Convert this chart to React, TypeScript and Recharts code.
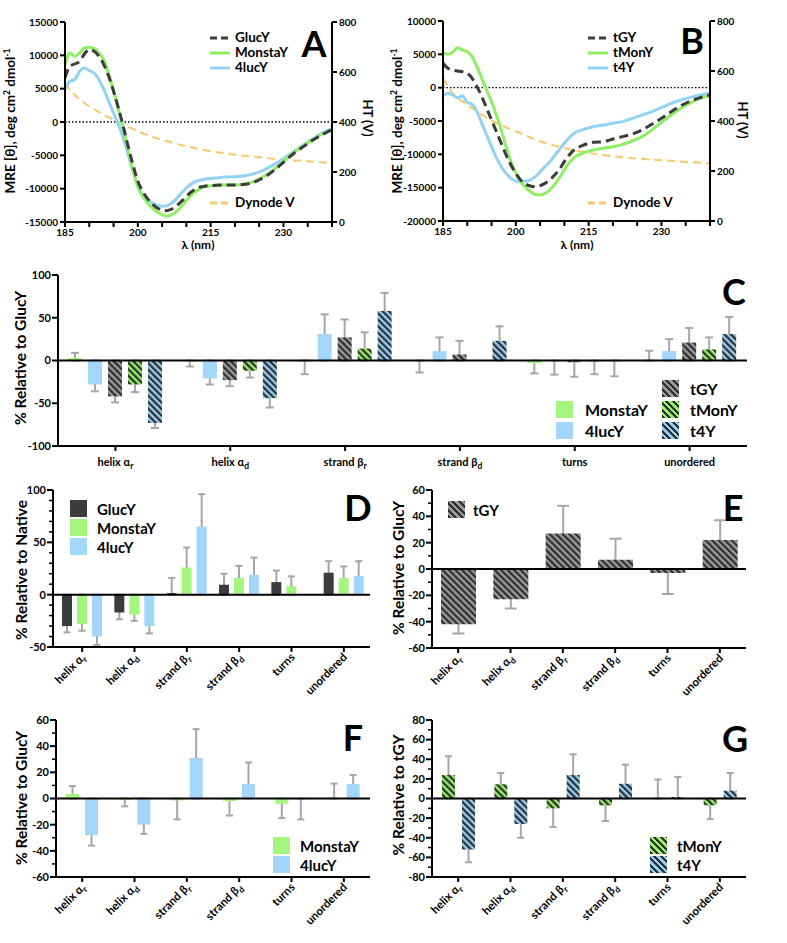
import React from 'react';
import { LineChart, Line, XAxis, YAxis, ReferenceLine, BarChart, Bar, ErrorBar } from 'recharts';

const FONT = 'Lato, "Open Sans", "DejaVu Sans", sans-serif';
const INK = '#000';

// ---- CD spectra (A, B), MRE in deg cm2 dmol-1
const wavelengths = [185, 186, 187, 188, 189, 190, 191, 192, 193, 194, 195, 196, 197, 198, 199, 200, 201, 202, 203, 204, 205, 206, 207, 208, 209, 210, 211, 212, 214, 216, 218, 220, 222, 224, 226, 228, 230, 232, 234, 236, 238, 240];
const glucY = [6600, 8350, 8700, 9100, 10200, 10850, 10600, 9850, 8600, 6850, 4600, 2100, -650, -3650, -6400, -8900, -10400, -11500, -12300, -12900, -13200, -13300, -13050, -12550, -11900, -11150, -10500, -10000, -9600, -9500, -9450, -9450, -9350, -9000, -8300, -7300, -6050, -4800, -3750, -2750, -1900, -1150];
const monstaY = [8600, 10350, 9850, 10350, 11100, 11200, 11000, 10350, 9300, 7200, 4700, 1900, -1100, -4200, -7200, -9700, -11150, -12150, -12900, -13500, -13900, -14150, -13900, -13400, -12650, -11750, -11000, -10400, -9650, -9500, -9450, -9450, -9350, -8900, -8150, -7150, -5900, -4650, -3650, -2650, -1800, -1150];
const lucY4 = [4850, 6100, 6350, 7600, 8100, 7700, 7350, 6350, 4850, 3100, 1350, -400, -2400, -4900, -7400, -9650, -10900, -11650, -12150, -12500, -12650, -12550, -12150, -11500, -10650, -9900, -9300, -8900, -8550, -8400, -8250, -8200, -8050, -7750, -7200, -6400, -5500, -4500, -3500, -2550, -1650, -1000];
const tGY = [3650, 2900, 2650, 2500, 2400, 2150, 1400, 150, -1350, -3100, -4850, -6600, -8350, -10100, -11600, -12850, -13850, -14450, -14750, -14850, -14700, -14350, -13850, -13100, -12200, -11100, -10100, -9350, -8600, -8200, -8100, -7700, -7350, -6950, -6350, -5500, -4600, -3600, -2700, -2000, -1500, -1100];
const tMonY = [5250, 5000, 5300, 6000, 5650, 5400, 4650, 3150, 1400, -350, -2100, -4100, -6350, -8850, -11100, -12850, -14100, -14950, -15600, -16000, -16100, -15850, -15350, -14500, -13500, -12350, -11250, -10500, -9750, -9350, -9100, -8850, -8500, -8000, -7350, -6350, -5200, -4100, -3100, -2250, -1600, -1200];
const t4Y = [-1200, -850, -1100, -1500, -1250, -2200, -2500, -3600, -5350, -7100, -8850, -10500, -11850, -12850, -13600, -14000, -14100, -14000, -13850, -13350, -12600, -11850, -11100, -10200, -9250, -8350, -7500, -6850, -6250, -5850, -5600, -5350, -5100, -4600, -4100, -3600, -3000, -2350, -1850, -1450, -1100, -850];

// dynode voltage, right axis (V)
const dynodeWl = [185, 187, 190, 193, 196, 200, 205, 210, 215, 220, 225, 230, 235, 240];
const dynodeA = [556, 509, 463, 429, 400, 363, 329, 303, 283, 269, 259, 249, 243, 235];
const dynodeB = [571, 512, 465, 425, 392, 359, 319, 292, 272, 259, 250, 243, 237, 230];

const wlTicks = [185, 190, 195, 200, 205, 210, 215, 220, 225, 230, 235, 240];
const wlLabels = [185, 200, 215, 230];
const mreTicksA = [-15000, -10000, -5000, 0, 5000, 10000, 15000];
const mreTicksB = [-20000, -15000, -10000, -5000, 0, 5000, 10000];
const htTicks = [0, 200, 400, 600, 800];

// ---- secondary structure (C-G), % change; errors signed (direction of whisker)
const structures = ['helix α_r', 'helix α_d', 'strand β_r', 'strand β_d', 'turns', 'unordered'];

const cMonstaY = [3, -1, -1, -1, -3, 0.4];
const cMonstaYErr = [6, -6, -15, -13, -12, 11];
const c4lucY = [-28, -21, 31, 11, -0.5, 11];
const c4lucYErr = [-8, -7, 23, 16, -16, 14];
const cTGY = [-42, -23, 27, 7, -2, 21];
const cTGYErr = [-7, -7, 21, 16, -17, 17];
const cTMonY = [-28, -12, 14, 0, -1, 13];
const cTMonYErr = [-9, -8, 19, 0, -15, 14];
const cT4Y = [-73, -44, 58, 23, -0.5, 31];
const cT4YErr = [-6, -11, 21, 17, -18, 20];
const cTicks = [-100, -50, 0, 50, 100];

const dGlucY = [-30, -17, 1.5, 9.5, 12, 21];
const dGlucYErr = [-6, -6.5, 14.5, 10.5, 11, 11];
const dMonstaY = [-28, -19, 26, 16, 8, 16];
const dMonstaYErr = [-6.5, -6, 19, 11.5, 9.5, 11];
const d4lucY = [-40, -30, 65, 19, 0, 18];
const d4lucYErr = [-8, -7, 31, 16.5, 0, 14];
const dTicks = [-50, -40, -30, -20, -10, 0, 10, 20, 30, 40, 50, 60, 70, 80, 90, 100];

const eTGY = [-42, -23, 27, 7, -3, 22];
const eTGYErr = [-7, -7, 21, 16, -16, 15];
const efTicks = [-60, -50, -40, -30, -20, -10, 0, 10, 20, 30, 40, 50, 60];

const fMonstaY = [3.5, -1, -1.5, -2, -4, 0.4];
const fMonstaYErr = [6, -5, -14.5, -11, -11, 11];
const f4lucY = [-28, -20, 31, 11, -0.5, 11];
const f4lucYErr = [-8, -7, 22, 16.5, -15.5, 7];

const gTMonY = [24, 14.5, -10, -7, 0.4, -7];
const gTMonYErr = [19, 11.5, -19, -16, 19, -14];
const gT4Y = [-52, -26, 24, 15, 1.5, 8];
const gT4YErr = [-13, -14, 21, 19.5, 20.5, 18];
const gTicks = [-80, -70, -60, -50, -40, -30, -20, -10, 0, 10, 20, 30, 40, 50, 60, 70, 80];

// colours
const DARK = '#3c3c3c';
const GREEN = '#a4f67f';
const BLUE = '#a2d7fb';
const LINE_GREEN = '#8ef060';
const LINE_BLUE = '#93d2f7';
const ORANGE = '#f6c96c';
const ERR = '#a6a6a6';
const HATCH_BG = { tGY: '#9a9a9a', tMonY: '#93ef66', t4Y: '#92cdf4' };

type Box = { left: number; top: number; width: number; height: number };
type Plot = { x0: number; x1: number; y0: number; y1: number };
type BarSeries = { key: string; values: number[]; errors: number[]; fill: string };
type LineSeries = { key: string; values: number[]; color: string; dash?: string };

const hatchCss = (bg: string) =>
  `repeating-linear-gradient(45deg, #2e2e2e 0px, #2e2e2e 2.2px, ${bg} 2.2px, ${bg} 4.6px)`;

const Txt = ({ x, y, rot = 0, size, children }: any) => (
  <div
    style={{
      position: 'absolute', left: x, top: y, transform: `translate(-50%, -50%) rotate(${rot}deg)`,
      fontSize: size, fontWeight: 700, fontFamily: FONT, whiteSpace: 'nowrap', lineHeight: 1, color: INK,
    }}
  >
    {children}
  </div>
);

const BoxKey = ({ x, y, bg, label, textX, size = 15, box = 17 }: any) => (
  <>
    <div style={{ position: 'absolute', left: x, top: y, width: box, height: box, background: bg }} />
    <div
      style={{
        position: 'absolute', left: textX, top: y + box / 2, transform: 'translateY(-50%)',
        fontSize: size, fontWeight: 700, fontFamily: FONT, lineHeight: 1, whiteSpace: 'nowrap',
      }}
    >
      {label}
    </div>
  </>
);

const LineKey = ({ x, y, color, dash, label, width = 20 }: any) => (
  <>
    <svg style={{ position: 'absolute', left: x, top: y - 3 }} width={width} height={6}>
      <line x1={0} x2={width} y1={3} y2={3} stroke={color} strokeWidth={3} strokeDasharray={dash} />
    </svg>
    <div
      style={{
        position: 'absolute', left: x + width + 5, top: y, transform: 'translateY(-50%)',
        fontSize: 13.5, fontWeight: 700, fontFamily: FONT, lineHeight: 1, whiteSpace: 'nowrap',
      }}
    >
      {label}
    </div>
  </>
);

const axisStyle = { stroke: INK, strokeWidth: 2 };
const tickText = { fill: INK, fontSize: 10, fontWeight: 700, fontFamily: FONT };

function SpectrumPanel({ box, plot, mreTicks, series, dynode }: { box: Box; plot: Plot; mreTicks: number[]; series: LineSeries[]; dynode: number[] }) {
  const yw = 55, yr = 40, xh = 20;
  const rows = wavelengths.map((wl, i) => {
    const r: Record<string, number> = { wl };
    series.forEach((s) => (r[s.key] = s.values[i]));
    return r;
  });
  const dynRows = dynodeWl.map((wl, i) => ({ wl, ht: dynode[i] }));
  const margin = {
    top: plot.y0 - box.top,
    bottom: box.top + box.height - plot.y1 - xh,
    left: plot.x0 - box.left - yw,
    right: box.left + box.width - plot.x1 - yr,
  };
  return (
    <div style={{ position: 'absolute', left: box.left, top: box.top }}>
      <LineChart width={box.width} height={box.height} data={rows} margin={margin}>
        <XAxis
          dataKey="wl" type="number" domain={[185, 240]} ticks={wlTicks} interval={0} allowDataOverflow
          tickFormatter={(v: number) => (wlLabels.includes(v) ? String(v) : '')}
          height={xh} tickSize={5} tickMargin={2} axisLine={axisStyle} tickLine={axisStyle} tick={tickText}
        />
        <YAxis
          yAxisId="mre" width={yw} domain={[mreTicks[0], mreTicks[mreTicks.length - 1]]} ticks={mreTicks}
          interval={0} allowDataOverflow tickSize={5} tickMargin={2} axisLine={axisStyle} tickLine={axisStyle} tick={tickText}
        />
        <YAxis
          yAxisId="ht" orientation="right" width={yr} domain={[0, 800]} ticks={htTicks} interval={0}
          allowDataOverflow tickSize={5} tickMargin={2} axisLine={axisStyle} tickLine={axisStyle} tick={tickText}
        />
        <ReferenceLine yAxisId="mre" y={0} stroke={INK} strokeWidth={1.3} strokeDasharray="1.5 2" />
        <Line
          yAxisId="ht" data={dynRows} dataKey="ht" type="monotone" stroke={ORANGE} strokeWidth={2}
          strokeDasharray="8 5" dot={false} isAnimationActive={false}
        />
        {[...series].reverse().map((s) => (
          <Line
            key={s.key} yAxisId="mre" dataKey={s.key} type="monotone" stroke={s.color} strokeWidth={3}
            strokeDasharray={s.dash} dot={false} isAnimationActive={false}
          />
        ))}
      </LineChart>
    </div>
  );
}

const ValTick = (props: any) => {
  const { x, y, payload, major } = props;
  const v = payload.value;
  const isMajor = Math.abs(v % major) < 1e-6;
  return (
    <g>
      <line x1={x} x2={x - (isMajor ? 6 : 4)} y1={y} y2={y} stroke={INK} strokeWidth={isMajor ? 2 : 1.5} />
      {isMajor && (
        <text x={x - 7} y={y} dy="0.35em" textAnchor="end" fontSize={11} fontWeight={700} fontFamily={FONT} fill={INK}>
          {v}
        </text>
      )}
    </g>
  );
};

const CatTick = (props: any) => {
  const { x, y, payload, rotate } = props;
  const [base, sub] = String(payload.value).split('_');
  const label = (
    <>
      {base}
      {sub && (
        <tspan dy={3} fontSize={8.5}>
          {sub}
        </tspan>
      )}
    </>
  );
  return (
    <g>
      <line x1={x} x2={x} y1={y} y2={y + 5} stroke={INK} strokeWidth={2} />
      {rotate ? (
        <text transform={`translate(${x + 4},${y + 11}) rotate(-45)`} textAnchor="end" fontSize={11.5} fontWeight={700} fontFamily={FONT} fill={INK}>
          {label}
        </text>
      ) : (
        <text x={x} y={y + 20} textAnchor="middle" fontSize={11} fontWeight={700} fontFamily={FONT} fill={INK}>
          {label}
        </text>
      )}
    </g>
  );
};

const Hatch = ({ id, bg }: { id: string; bg: string }) => (
  <pattern id={id} patternUnits="userSpaceOnUse" width={4.6} height={4.6} patternTransform="rotate(-45)">
    <rect width={4.6} height={4.6} fill={bg} />
    <rect width={2.2} height={4.6} fill="#2e2e2e" />
  </pattern>
);

function BarPanel(p: {
  id: string; box: Box; plot: Plot; ticks: number[]; major: number; series: BarSeries[];
  barSize: number; barGap: number; cap: number; rotate?: boolean; padLeft?: number;
}) {
  const { id, box, plot, ticks, major, series, barSize, barGap, cap, rotate, padLeft = 0 } = p;
  const yw = 40, xh = 30;
  const rows = structures.map((cat, i) => {
    const r: Record<string, any> = { cat };
    series.forEach((s) => {
      const v = s.values[i];
      const e = s.errors[i];
      const lo = Math.min(0, v, v + e);
      const hi = Math.max(0, v, v + e);
      r[s.key] = v;
      r[s.key + 'Err'] = [v - lo, hi - v];
    });
    return r;
  });
  const margin = {
    top: plot.y0 - box.top,
    bottom: box.top + box.height - plot.y1 - xh,
    left: plot.x0 - box.left - yw,
    right: box.left + box.width - plot.x1,
  };
  const chart = (front: boolean) => (
    <BarChart width={box.width} height={box.height} data={rows} margin={margin} barSize={barSize} barGap={barGap}>
      {front && (
        <defs>
          <Hatch id={`${id}-tGY`} bg={HATCH_BG.tGY} />
          <Hatch id={`${id}-tMonY`} bg={HATCH_BG.tMonY} />
          <Hatch id={`${id}-t4Y`} bg={HATCH_BG.t4Y} />
        </defs>
      )}
      <XAxis
        dataKey="cat" interval={0} height={xh} padding={{ left: padLeft, right: 0 }} tickSize={0} tickMargin={0}
        axisLine={front ? axisStyle : false} tickLine={false} tick={front ? <CatTick rotate={rotate} /> : false}
      />
      <YAxis
        width={yw} domain={[ticks[0], ticks[ticks.length - 1]]} ticks={ticks} interval={0} allowDataOverflow
        tickSize={0} tickMargin={0} axisLine={front ? axisStyle : false} tickLine={false}
        tick={front ? <ValTick major={major} /> : false}
      />
      {series.map((s) => (
        <Bar
          key={s.key} dataKey={s.key} isAnimationActive={false}
          fill={front ? (s.fill.startsWith('#') ? s.fill : `url(#${id}-${s.fill})`) : 'none'}
        >
          {!front && <ErrorBar dataKey={s.key + 'Err'} direction="y" width={cap} stroke={ERR} strokeWidth={2} />}
        </Bar>
      ))}
      {front && <ReferenceLine y={0} stroke={INK} strokeWidth={2} />}
    </BarChart>
  );
  return (
    <>
      <div style={{ position: 'absolute', left: box.left, top: box.top }}>{chart(false)}</div>
      <div style={{ position: 'absolute', left: box.left, top: box.top }}>{chart(true)}</div>
    </>
  );
}

const mreLabel = (
  <>
    MRE [θ], deg cm<sup style={{ fontSize: 8.5 }}>2</sup> dmol<sup style={{ fontSize: 8.5 }}>-1</sup>
  </>
);

export default function App() {
  return (
    <div style={{ position: 'absolute', left: 0, top: 0, width: 787, height: 943, background: '#fff', overflow: 'hidden' }}>
      <SpectrumPanel
        box={{ left: 0, top: 0, width: 390, height: 260 }}
        plot={{ x0: 65, x1: 332, y0: 22, y1: 222 }}
        mreTicks={mreTicksA}
        dynode={dynodeA}
        series={[
          { key: 'GlucY', values: glucY, color: DARK, dash: '9 5' },
          { key: 'MonstaY', values: monstaY, color: LINE_GREEN },
          { key: '4lucY', values: lucY4, color: LINE_BLUE },
        ]}
      />
      <SpectrumPanel
        box={{ left: 385, top: 0, width: 402, height: 260 }}
        plot={{ x0: 443, x1: 710, y0: 21, y1: 221 }}
        mreTicks={mreTicksB}
        dynode={dynodeB}
        series={[
          { key: 'tGY', values: tGY, color: DARK, dash: '9 5' },
          { key: 'tMonY', values: tMonY, color: LINE_GREEN },
          { key: 't4Y', values: t4Y, color: LINE_BLUE },
        ]}
      />

      <BarPanel
        id="c" box={{ left: 0, top: 262, width: 787, height: 218 }} plot={{ x0: 58, x1: 747, y0: 275, y1: 446 }}
        ticks={cTicks} major={50} barSize={14} barGap={6} cap={4}
        series={[
          { key: 'MonstaY', values: cMonstaY, errors: cMonstaYErr, fill: GREEN },
          { key: '4lucY', values: c4lucY, errors: c4lucYErr, fill: BLUE },
          { key: 'tGY', values: cTGY, errors: cTGYErr, fill: 'tGY' },
          { key: 'tMonY', values: cTMonY, errors: cTMonYErr, fill: 'tMonY' },
          { key: 't4Y', values: cT4Y, errors: cT4YErr, fill: 't4Y' },
        ]}
      />
      <BarPanel
        id="d" box={{ left: 0, top: 480, width: 390, height: 220 }} plot={{ x0: 53, x1: 370, y0: 490, y1: 647 }}
        ticks={dTicks} major={50} barSize={10} barGap={5} cap={3.5} rotate padLeft={3}
        series={[
          { key: 'GlucY', values: dGlucY, errors: dGlucYErr, fill: DARK },
          { key: 'MonstaY', values: dMonstaY, errors: dMonstaYErr, fill: GREEN },
          { key: '4lucY', values: d4lucY, errors: d4lucYErr, fill: BLUE },
        ]}
      />
      <BarPanel
        id="e" box={{ left: 390, top: 480, width: 397, height: 220 }} plot={{ x0: 432, x1: 746, y0: 490, y1: 648 }}
        ticks={efTicks} major={20} barSize={35} barGap={0} cap={6} rotate
        series={[{ key: 'tGY', values: eTGY, errors: eTGYErr, fill: 'tGY' }]}
      />
      <BarPanel
        id="f" box={{ left: 0, top: 705, width: 390, height: 238 }} plot={{ x0: 56, x1: 370, y0: 720, y1: 877 }}
        ticks={efTicks} major={20} barSize={13} barGap={6} cap={3.5} rotate
        series={[
          { key: 'MonstaY', values: fMonstaY, errors: fMonstaYErr, fill: GREEN },
          { key: '4lucY', values: f4lucY, errors: f4lucYErr, fill: BLUE },
        ]}
      />
      <BarPanel
        id="g" box={{ left: 390, top: 705, width: 397, height: 238 }} plot={{ x0: 432, x1: 746, y0: 720, y1: 877 }}
        ticks={gTicks} major={20} barSize={13} barGap={7} cap={3.5} rotate
        series={[
          { key: 'tMonY', values: gTMonY, errors: gTMonYErr, fill: 'tMonY' },
          { key: 't4Y', values: gT4Y, errors: gT4YErr, fill: 't4Y' },
        ]}
      />

      {/* axis titles */}
      <Txt x={10} y={121} rot={-90} size={13.5}>{mreLabel}</Txt>
      <Txt x={367} y={118} rot={90} size={13}>HT (V)</Txt>
      <Txt x={198} y={245} size={12}>λ (nm)</Txt>
      <Txt x={397} y={121} rot={-90} size={13.5}>{mreLabel}</Txt>
      <Txt x={742} y={120} rot={90} size={13}>HT (V)</Txt>
      <Txt x={577} y={245} size={12}>λ (nm)</Txt>
      <Txt x={21} y={358} rot={-90} size={15.5}>% Relative to GlucY</Txt>
      <Txt x={22} y={570} rot={-90} size={15.5}>% Relative to Native</Txt>
      <Txt x={399} y={568} rot={-90} size={15.5}>% Relative to GlucY</Txt>
      <Txt x={22} y={798} rot={-90} size={15.5}>% Relative to GlucY</Txt>
      <Txt x={399} y={795} rot={-90} size={15.5}>% Relative to tGY</Txt>

      {/* panel letters */}
      <Txt x={314} y={43} size={36}>A</Txt>
      <Txt x={692} y={40} size={36}>B</Txt>
      <Txt x={734} y={291} size={36}>C</Txt>
      <Txt x={358} y={507} size={36}>D</Txt>
      <Txt x={733} y={507} size={36}>E</Txt>
      <Txt x={353} y={737} size={36}>F</Txt>
      <Txt x={735} y={738} size={36}>G</Txt>

      {/* legends A, B */}
      <LineKey x={210} y={38} color={DARK} dash="7 4" label="GlucY" />
      <LineKey x={210} y={53} color={LINE_GREEN} label="MonstaY" />
      <LineKey x={210} y={68} color={LINE_BLUE} label="4lucY" />
      <LineKey x={210} y={203} color={ORANGE} dash="7 4" label="Dynode V" />
      <LineKey x={588} y={38} color={DARK} dash="7 4" label="tGY" />
      <LineKey x={588} y={53} color={LINE_GREEN} label="tMonY" />
      <LineKey x={588} y={68} color={LINE_BLUE} label="t4Y" />
      <LineKey x={588} y={203} color={ORANGE} dash="7 4" label="Dynode V" />

      {/* legend C */}
      <BoxKey x={556} y={401} bg={GREEN} label="MonstaY" textX={585} size={16} />
      <BoxKey x={556} y={422} bg={BLUE} label="4lucY" textX={585} size={16} />
      <BoxKey x={662} y={380} bg={hatchCss(HATCH_BG.tGY)} label="tGY" textX={690} size={16} />
      <BoxKey x={662} y={401} bg={hatchCss(HATCH_BG.tMonY)} label="tMonY" textX={690} size={16} />
      <BoxKey x={662} y={422} bg={hatchCss(HATCH_BG.t4Y)} label="t4Y" textX={690} size={16} />

      {/* legend D */}
      <BoxKey x={70} y={500} bg={DARK} label="GlucY" textX={97} />
      <BoxKey x={70} y={519} bg={GREEN} label="MonstaY" textX={97} />
      <BoxKey x={70} y={538} bg={BLUE} label="4lucY" textX={97} />

      {/* legend E */}
      <BoxKey x={448} y={501} bg={hatchCss(HATCH_BG.tGY)} label="tGY" textX={473} />

      {/* legend F */}
      <BoxKey x={273} y={837} bg={GREEN} label="MonstaY" textX={300} />
      <BoxKey x={273} y={856} bg={BLUE} label="4lucY" textX={300} />

      {/* legend G */}
      <BoxKey x={650} y={837} bg={hatchCss(HATCH_BG.tMonY)} label="tMonY" textX={677} />
      <BoxKey x={650} y={856} bg={hatchCss(HATCH_BG.t4Y)} label="t4Y" textX={677} />
    </div>
  );
}
